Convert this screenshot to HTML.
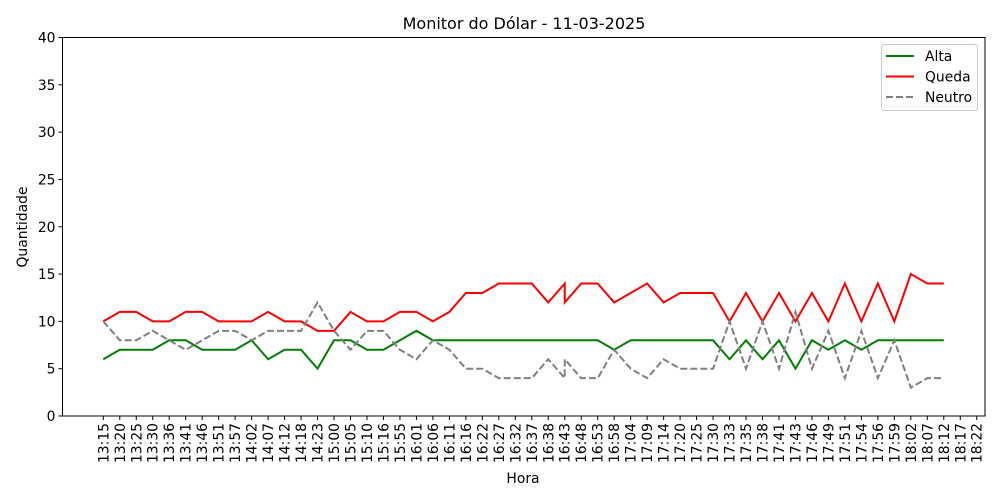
<!DOCTYPE html>
<html><head><meta charset="utf-8"><style>
body{margin:0;background:#fff}
svg{display:block;font-family:"DejaVu Sans","Liberation Sans",sans-serif}
</style></head><body>
<svg id="chart" width="1000" height="500"></svg>
<script>
const labels=["13:15","13:20","13:25","13:30","13:36","13:41","13:46","13:51","13:57","14:02","14:07","14:12","14:18","14:23","15:00","15:05","15:10","15:16","15:55","16:01","16:06","16:11","16:16","16:22","16:27","16:32","16:37","16:38","16:43","16:48","16:53","16:58","17:04","17:09","17:14","17:20","17:25","17:30","17:33","17:35","17:38","17:41","17:43","17:46","17:49","17:51","17:54","17:56","17:59","18:02","18:07","18:12","18:17","18:22"];
const pointTimes=["13:15","13:20","13:25","13:30","13:36","13:41","13:46","13:51","13:57","14:02","14:07","14:12","14:18","14:23","15:00","15:05","15:10","15:16","15:55","16:01","16:06","16:11","16:16","16:22","16:27","16:32","16:37","16:38","16:43","16:43","16:48","16:53","16:58","17:04","17:09","17:14","17:20","17:25","17:30","17:33","17:35","17:38","17:41","17:43","17:46","17:49","17:51","17:54","17:56","17:59","18:02","18:07","18:12"];
const alta=[6,7,7,7,8,8,7,7,7,8,6,7,7,5,8,8,7,7,8,9,8,8,8,8,8,8,8,8,8,8,8,8,7,8,8,8,8,8,8,6,8,6,8,5,8,7,8,7,8,8,8,8,8];
const queda=[10,11,11,10,10,11,11,10,10,10,11,10,10,9,9,11,10,10,11,11,10,11,13,13,14,14,14,12,14,12,14,14,12,13,14,12,13,13,13,10,13,10,13,10,13,10,14,10,14,10,15,14,14];
const neutro=[10,8,8,9,8,7,8,9,9,8,9,9,9,12,9,7,9,9,7,6,8,7,5,5,4,4,4,6,4,6,4,4,7,5,4,6,5,5,5,10,5,10,5,11,5,9,4,9,4,8,3,4,4];
const yTicks=[0,5,10,15,20,25,30,35,40];

const NS="http://www.w3.org/2000/svg";
const svg=document.getElementById('chart');
const L=62.5,R=985,T=37.5,B=416;
const x=i=>103.3+16.48*i;
const y=v=>B-(v/40)*(B-T);
function mk(tag,attrs,parent){const e=document.createElementNS(NS,tag);for(const k in attrs)e.setAttribute(k,attrs[k]);(parent||svg).appendChild(e);return e;}

const title=mk('text',{x:524,y:29,'text-anchor':'middle','font-size':16});
title.textContent="Monitor do Dólar - 11-03-2025";



const gy=mk('g',{});


yTicks.forEach(v=>{
  mk('line',{x1:L-4,x2:L,y1:y(v),y2:y(v),stroke:'#000'},gy);
  const t=mk('text',{x:L-7,y:y(v)+5,'text-anchor':'end','font-size':13.9},gy);
  t.textContent=v;
  
  
});
const gx=mk('g',{});


labels.forEach((l,i)=>{
  mk('line',{x1:x(i),x2:x(i),y1:B,y2:B+4,stroke:'#000'},gx);
  const t=mk('text',{transform:`translate(${x(i)+5},${B+7}) rotate(-90)`,'text-anchor':'end','font-size':13.9},gx);
  t.textContent=l;
  
  
});
const yl=mk('text',{transform:'translate(27,227) rotate(-90)','text-anchor':'middle','font-size':13.9});
yl.textContent="Quantidade";


const xl=mk('text',{x:523,y:483,'text-anchor':'middle','font-size':13.9});
xl.textContent="Hora";



function series(vals,color,dash,name){
  const pts=vals.map((v,k)=>x(labels.indexOf(pointTimes[k]))+','+y(v)).join(' ');
  const p=mk('polyline',{points:pts,fill:'none',stroke:color,'stroke-width':2,'stroke-dasharray':dash||'none'});
  
  
}
series(alta,'#008000',null,'alta-line');
series(queda,'#ff0000',null,'queda-line');
series(neutro,'#808080','7,3','neutro-line');

const frame=mk('rect',{x:L,y:T,width:R-L,height:B-T,fill:'none',stroke:'#000','stroke-width':1});



const lg=mk('g',{});


mk('rect',{x:881.5,y:44.5,width:96,height:66,rx:3,fill:'#fff',stroke:'#ccc'},lg);
[['Alta','#008000',null],['Queda','#ff0000',null],['Neutro','#808080','7,3']].forEach((e,i)=>{
  const yy=56+i*20.5;
  const g=mk('g',{},lg);
  
  
  mk('line',{x1:886,x2:914,y1:yy,y2:yy,stroke:e[1],'stroke-width':2,'stroke-dasharray':e[2]||'none'},g);
  const t=mk('text',{x:925,y:yy+5,'font-size':13.9},g);
  t.textContent=e[0];
});
</script>
</body></html>
